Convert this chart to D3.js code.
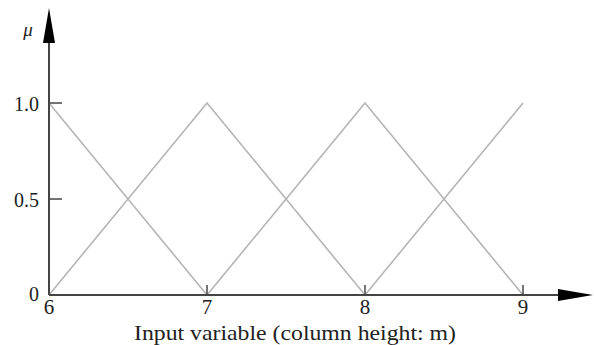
<!DOCTYPE html>
<html>
<head>
<meta charset="utf-8">
<script src="https://cdn.jsdelivr.net/npm/d3@7"></script>
<style>
body { margin: 0; background: #fff; }
text { font-family: "Liberation Serif", "Times New Roman", serif; fill: #222; }
</style>
</head>
<body>
<script>
// membership functions (triangles), points as [x, mu]
var xTicks = [6, 7, 8, 9];
var yTicks = [0, 0.5, 1.0];
var yTickLabels = ["0", "0.5", "1.0"];
var mf1 = [[6, 1], [7, 0]];
var mf2 = [[6, 0], [7, 1], [8, 0]];
var mf3 = [[7, 0], [8, 1], [9, 0]];
var mf4 = [[8, 0], [9, 1]];
var series = [mf1, mf2, mf3, mf4];

var width = 594, height = 345;
var x0 = 49, y0 = 295;

var svg = d3.select("body").append("svg")
    .attr("width", width)
    .attr("height", height);

var x = d3.scaleLinear().domain([6, 9]).range([x0, 523]);
var y = d3.scaleLinear().domain([0, 1]).range([y0, 103]);

var line = d3.line()
    .x(function(d){ return x(d[0]); })
    .y(function(d){ return y(d[1]); });

svg.selectAll("path.mf")
    .data(series)
    .enter().append("path")
    .attr("class", "mf")
    .attr("d", line)
    .attr("fill", "none")
    .attr("stroke", "#b5b5b5")
    .attr("stroke-width", 1.6);

// axes lines
svg.append("line")
    .attr("x1", x0).attr("y1", y0)
    .attr("x2", x0).attr("y2", 40)
    .attr("stroke", "#444").attr("stroke-width", 2);
svg.append("line")
    .attr("x1", x0).attr("y1", y0)
    .attr("x2", 562).attr("y2", y0)
    .attr("stroke", "#444").attr("stroke-width", 2);

// arrow heads
svg.append("path")
    .attr("d", "M" + x0 + ",8 L" + (x0 - 6) + ",43 L" + (x0 + 6) + ",43 Z")
    .attr("fill", "#000");
svg.append("path")
    .attr("d", "M593," + y0 + " L558," + (y0 - 6) + " L558," + (y0 + 6) + " Z")
    .attr("fill", "#000");

// y ticks
svg.selectAll("line.ytick")
    .data(yTicks.slice(1))
    .enter().append("line")
    .attr("class", "ytick")
    .attr("x1", x0).attr("x2", x0 + 13)
    .attr("y1", function(d){ return y(d); })
    .attr("y2", function(d){ return y(d); })
    .attr("stroke", "#444").attr("stroke-width", 1.5);

svg.selectAll("text.ylab")
    .data(yTicks)
    .enter().append("text")
    .attr("class", "ylab")
    .attr("x", 39)
    .attr("y", function(d, i){ return i == 0 ? y(d) + 6 : y(d) + 8; })
    .attr("text-anchor", "end")
    .style("font-size", "20px")
    .text(function(d, i){ return yTickLabels[i]; });

// x ticks
svg.selectAll("line.xtick")
    .data(xTicks.slice(1))
    .enter().append("line")
    .attr("class", "xtick")
    .attr("x1", function(d){ return x(d); })
    .attr("x2", function(d){ return x(d); })
    .attr("y1", y0).attr("y2", y0 - 10)
    .attr("stroke", "#444").attr("stroke-width", 1.5);

svg.selectAll("text.xlab")
    .data(xTicks)
    .enter().append("text")
    .attr("class", "xlab")
    .attr("x", function(d){ return x(d); })
    .attr("y", 314)
    .attr("text-anchor", "middle")
    .style("font-size", "21px")
    .text(function(d){ return d; });

// axis titles
svg.append("text")
    .attr("x", 28).attr("y", 36)
    .attr("text-anchor", "middle")
    .style("font-size", "19px")
    .style("font-style", "italic")
    .text("μ");

svg.append("text")
    .attr("x", 134).attr("y", 340)
    .attr("textLength", 322)
    .attr("lengthAdjust", "spacingAndGlyphs")
    .style("font-size", "22px")
    .text("Input variable (column height: m)");
</script>
</body>
</html>
